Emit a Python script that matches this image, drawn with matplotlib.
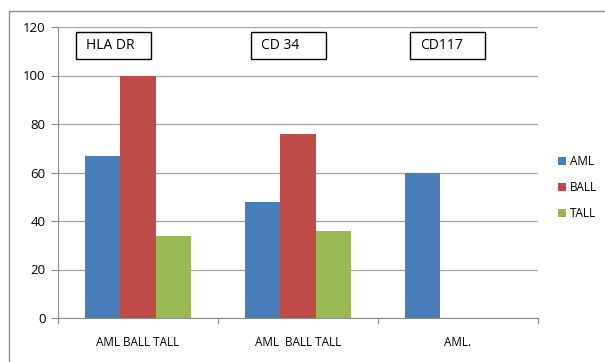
import numpy as np
import matplotlib.pyplot as plt
from matplotlib.patches import Rectangle

plt.rcParams['font.family'] = ['Open Sans', 'DejaVu Sans']

# dados
categorias = ['AML BALL TALL', 'AML  BALL TALL', 'AML.']
marcadores = ['HLA DR', 'CD 34', 'CD117']
aml  = [67, 48, 60]
ball = [100, 76, 0]
tall = [34, 36, 0]
series = [('AML', aml, '#4a7ebb'), ('BALL', ball, '#be4b48'), ('TALL', tall, '#98b954')]

fig = plt.figure(figsize=(6.05, 3.62), dpi=100)
fig.patch.set_facecolor('white')

# moldura externa do gráfico
fig.patches.append(Rectangle((9/605, -0.05), 1.0, 1 - 11/362 + 0.05, transform=fig.transFigure,
                             fill=False, edgecolor='#8c8c8c', linewidth=1.0))

ax = fig.add_axes([58/605, 44/362, 480/605, 291/362])

x = np.arange(len(categorias))
w = 0.219
for k, (nome, vals, cor) in enumerate(series):
    ax.bar(x + (k - 1) * w, vals, width=w, color=cor, label=nome, zorder=3)

ax.set_xlim(-0.5, 2.5)
ax.set_ylim(0, 120)
ax.set_yticks(range(0, 121, 20))
ax.yaxis.grid(True, color='#a6a6a6', linewidth=0.9, zorder=0)
ax.set_xticks(x)
ax.set_xticklabels(categorias, fontsize=8.5)
ax.tick_params(axis='x', length=0, pad=13)
ax.tick_params(axis='y', labelsize=9.5, length=5, color='#8c8c8c', pad=4)
# marcas entre categorias no eixo x
for b in [-0.5, 0.5, 1.5, 2.5]:
    ax.plot([b, b], [0, -2.2], color='#8c8c8c', linewidth=0.9, clip_on=False)

for lado in ['top', 'right']:
    ax.spines[lado].set_visible(False)
for lado in ['left', 'bottom']:
    ax.spines[lado].set_color('#8c8c8c')

# caixas com o nome do marcador (posição da borda esquerda, em unidades do eixo x)
caixa_x = [-0.3875, 0.706, 1.7]
for x0, txt in zip(caixa_x, marcadores):
    ax.add_patch(Rectangle((x0, 106.8), 0.469, 11.1, facecolor='white', edgecolor='black',
                           linewidth=1.0, zorder=5))
    ax.text(x0 + 0.065, 112.3, txt, fontsize=10, va='center', ha='left', zorder=6)

ax.legend(loc='upper left', bbox_to_anchor=(1.02, 0.596), frameon=False, fontsize=8.5,
          handlelength=0.7, handleheight=0.7, handletextpad=0.3, labelspacing=1.1)

fig.savefig('out.png', dpi=100)
